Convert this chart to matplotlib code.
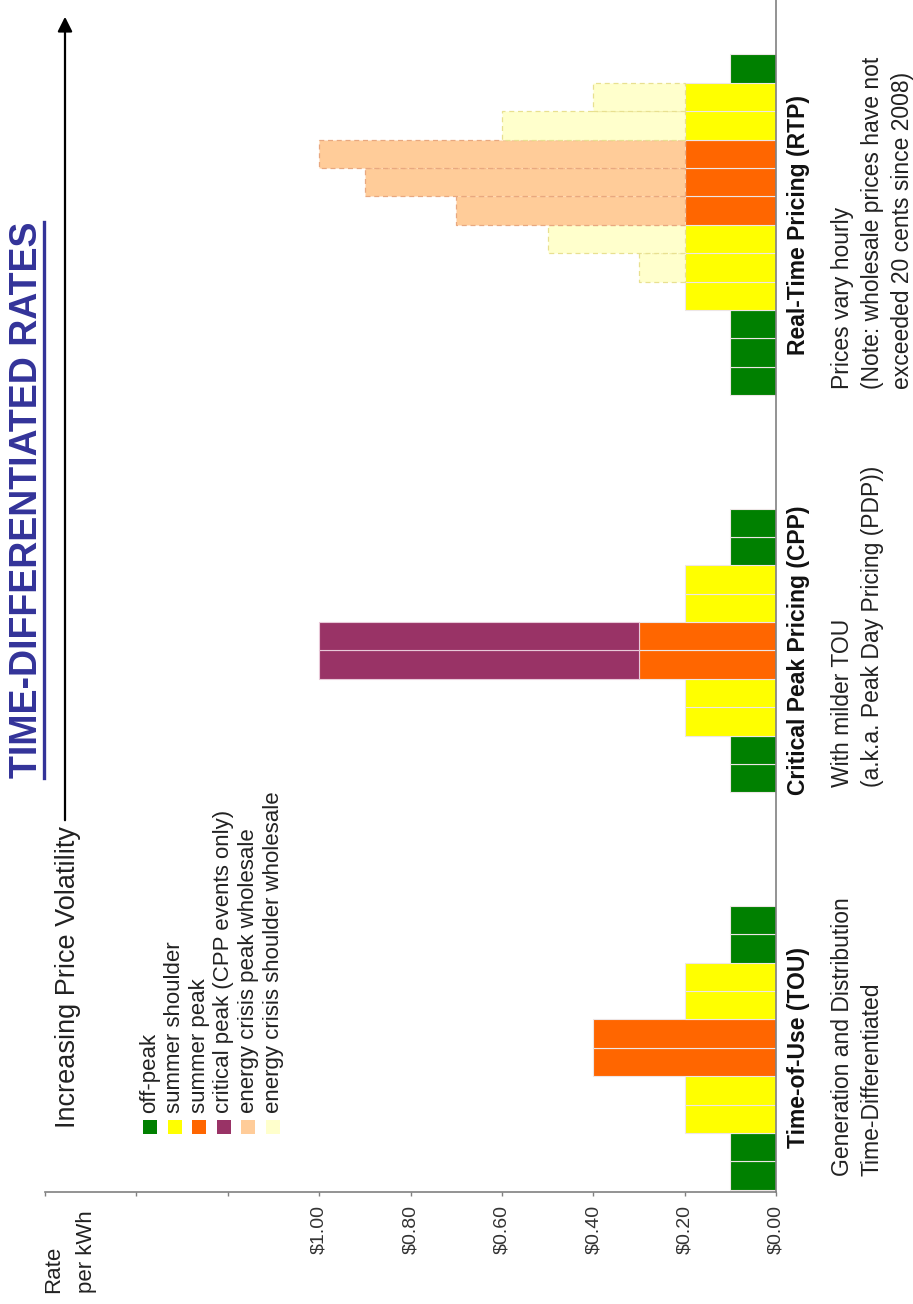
import matplotlib
matplotlib.use("Agg")
import matplotlib.pyplot as plt
from matplotlib.patches import Rectangle, FancyArrowPatch
from matplotlib.lines import Line2D
from matplotlib.transforms import blended_transform_factory

plt.rcParams["font.family"] = ["Liberation Sans", "DejaVu Sans"]

# ---------------- data ----------------
price_ticks = [0.0, 0.2, 0.4, 0.6, 0.8, 1.0, 1.2, 1.4, 1.6]
price_labels = [r"\$0.00", r"\$0.20", r"\$0.40", r"\$0.60", r"\$0.80", r"\$1.00", "", "", ""]

# hourly slots along the rate-plan axis
tou_slots = list(range(0, 10))
tou_kind = ["off", "off", "shoulder", "shoulder", "peak", "peak",
            "shoulder", "shoulder", "off", "off"]
tou_rate = [0.10, 0.10, 0.20, 0.20, 0.40, 0.40, 0.20, 0.20, 0.10, 0.10]

cpp_slots = list(range(14, 24))
cpp_kind = ["off", "off", "shoulder", "shoulder", "peak", "peak",
            "shoulder", "shoulder", "off", "off"]
cpp_rate = [0.10, 0.10, 0.20, 0.20, 0.30, 0.30, 0.20, 0.20, 0.10, 0.10]
cpp_event_rate = [None, None, None, None, 1.00, 1.00, None, None, None, None]

rtp_slots = list(range(28, 40))
rtp_kind = ["off", "off", "off", "shoulder", "shoulder", "shoulder",
            "peak", "peak", "peak", "shoulder", "shoulder", "off"]
rtp_rate = [0.10, 0.10, 0.10, 0.20, 0.20, 0.20, 0.20, 0.20, 0.20, 0.20, 0.20, 0.10]
rtp_crisis_rate = [None, None, None, None, 0.30, 0.50, 0.70, 0.90, 1.00, 0.60, 0.40, None]

groups = ["Time-of-Use (TOU)", "Critical Peak Pricing (CPP)", "Real-Time Pricing (RTP)"]
group_centers = [5.0, 19.0, 34.0]
group_notes = [
    ["Generation and Distribution", "Time-Differentiated"],
    ["With milder TOU", "(a.k.a. Peak Day Pricing (PDP))"],
    ["Prices vary hourly", "(Note: wholesale prices have not", "exceeded 20 cents since 2008)"],
]
note_starts = [0.5, 14.2, 28.2]

legend_labels = ["off-peak", "summer shoulder", "summer peak",
                 "critical peak (CPP events only)", "energy crisis peak wholesale",
                 "energy crisis shoulder wholesale"]

colors = {
    "off": "#008000",
    "shoulder": "#FFFF00",
    "peak": "#FF6600",
    "critical": "#993366",
    "crisis_peak": "#FFCC99",
    "crisis_shoulder": "#FFFFCC",
}
legend_colors = [colors["off"], colors["shoulder"], colors["peak"],
                 colors["critical"], colors["crisis_peak"], colors["crisis_shoulder"]]

# ---------------- figure ----------------
W, H, DPI = 913, 1304, 100
fig = plt.figure(figsize=(W / DPI, H / DPI), dpi=DPI, facecolor="white")


def fx(px):
    return px / W


def fy(py):
    return 1 - py / H


ax = fig.add_axes([fx(45), fy(1192), fx(776) - fx(45), fy(0) - fy(1192)])
ax.set_xlim(1.6, 0.0)
ax.set_ylim(-0.08, 41.92)

sep = "#EDE6E6"


def draw_base(slots, kinds, rates):
    for s, k, r in zip(slots, kinds, rates):
        ax.barh(s + 0.5, r, height=1.0, left=0, color=colors[k],
                edgecolor=sep, linewidth=0.8, zorder=2)


draw_base(tou_slots, tou_kind, tou_rate)
draw_base(cpp_slots, cpp_kind, cpp_rate)
draw_base(rtp_slots, rtp_kind, rtp_rate)

# critical peak event pricing stacked on the CPP peak hours
for s, base, top in zip(cpp_slots, cpp_rate, cpp_event_rate):
    if top is not None:
        ax.barh(s + 0.5, top - base, height=1.0, left=base, color=colors["critical"],
                edgecolor="#E8C8D8", linewidth=0.8, zorder=2)

# energy-crisis wholesale prices stacked on the RTP hours
for s, k, base, top in zip(rtp_slots, rtp_kind, rtp_rate, rtp_crisis_rate):
    if top is None:
        continue
    if k == "peak":
        fc, ec = colors["crisis_peak"], "#E8A880"
    else:
        fc, ec = colors["crisis_shoulder"], "#E8E090"
    ax.barh(s + 0.5, top - base, height=1.0, left=base, color=fc,
            edgecolor=ec, linewidth=0.9, linestyle=(0, (4, 3)), zorder=2)

# axes styling
for side in ("left", "top"):
    ax.spines[side].set_visible(False)
for side in ("bottom", "right"):
    ax.spines[side].set_color("#808080")
    ax.spines[side].set_linewidth(1.2)
ax.set_yticks([])
ax.set_xticks(price_ticks)
ax.set_xticklabels(price_labels, rotation=90, fontsize=14, color="#333333")
ax.tick_params(axis="x", direction="out", length=3, width=1, color="#808080", pad=6)
ax.patch.set_alpha(0)

# category labels under the baseline
tr = blended_transform_factory(fig.transFigure, ax.transData)
for name, c in zip(groups, group_centers):
    ax.text(fx(798), c, name, transform=tr, rotation=90, rotation_mode="anchor",
            ha="center", va="center", fontsize=16.5, fontweight="bold", color="#111111")
for lines, start in zip(group_notes, note_starts):
    for i, line in enumerate(lines):
        ax.text(fx(842 + 30 * i), start, line, transform=tr, rotation=90,
                rotation_mode="anchor", ha="left", va="center", fontsize=16.5,
                color="#222222")

# value axis caption
fig.text(fx(54), fy(1293), "Rate", rotation=90, rotation_mode="anchor",
         ha="left", va="center", fontsize=16, color="#222222")
fig.text(fx(86), fy(1293), "per kWh", rotation=90, rotation_mode="anchor",
         ha="left", va="center", fontsize=16, color="#222222")

# legend
for i, (lab, col) in enumerate(zip(legend_labels, legend_colors)):
    xc = 150 + 24.6 * i
    fig.patches.append(Rectangle((fx(xc - 7), fy(1134)), 14 / W, 14 / H,
                                 transform=fig.transFigure, facecolor=col,
                                 edgecolor="none"))
    fig.text(fx(xc), fy(1113), lab, rotation=90, rotation_mode="anchor",
             ha="left", va="center", fontsize=16, color="#222222")

# volatility arrow
fig.text(fx(68), fy(1128), "Increasing Price Volatility", rotation=90,
         rotation_mode="anchor", ha="left", va="center", fontsize=19.5, color="#222222")
fig.patches.append(FancyArrowPatch((fx(65), fy(823)), (fx(65), fy(14)),
                                   transform=fig.transFigure, arrowstyle="-|>",
                                   mutation_scale=22, linewidth=1.6, color="black"))

# title with underline
title = fig.text(fx(27), fy(500), "TIME-DIFFERENTIATED RATES", rotation=90,
                 ha="center", va="center", fontsize=27, fontweight="bold",
                 color="#333399")
fig.canvas.draw()
bb = title.get_window_extent(fig.canvas.get_renderer()).transformed(fig.transFigure.inverted())
fig.add_artist(Line2D([fx(44), fx(44)], [bb.y0, bb.y1], transform=fig.transFigure,
                      color="#333399", linewidth=2.4))

fig.savefig("out.png", dpi=DPI, facecolor="white")
